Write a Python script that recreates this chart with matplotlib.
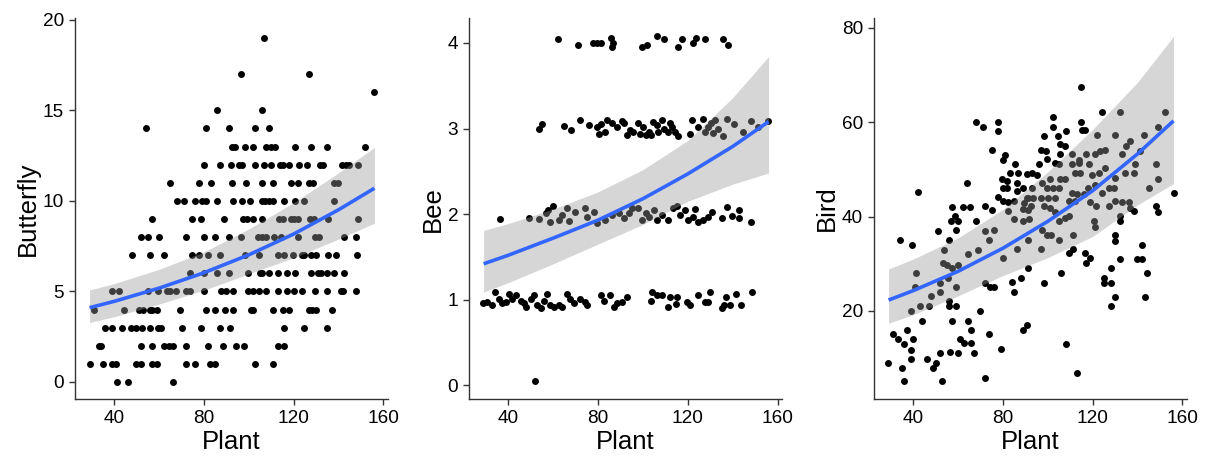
import matplotlib
matplotlib.use("Agg")
import matplotlib.pyplot as plt

plt.rcParams["font.family"] = ["Liberation Sans", "DejaVu Sans"]

# ---- Datos -------------------------------------------------------------------

PLANT_TICKS = [40, 80, 120, 160]

# Butterfly: conteos enteros -> valores de Plant en cada nivel
BUTTERFLY_ROWS = {
    19: [106.8],
    17: [96.7, 126.7],
    16: [155.7],
    15: [85.9, 105.8],
    14: [54.1, 80.9, 91.0, 102.8, 108.9],
    13: [92.7, 93.9, 98.1, 101.8, 107.7, 109.9, 111.8, 120.7, 127.7, 134.8, 151.7],
    12: [80.0, 87.0, 92.1, 95.8, 97.0, 102.8, 106.8, 109.9, 113.9, 115.1, 118.1,
         122.5, 125.8, 131.7, 133.2, 141.5, 143.3, 144.7, 148.7],
    11: [65.0, 78.0, 83.0, 92.3, 98.8, 105.8, 110.8, 118.7, 121.8, 126.7, 128.7,
         137.9, 139.8],
    10: [68.0, 71.1, 76.0, 79.0, 81.0, 86.0, 92.9, 96.9, 100.3, 105.8, 107.0, 108.9,
         110.7, 115.8, 120.7, 124.7, 137.8],
    9: [57.0, 74.8, 78.5, 88.9, 97.6, 99.1, 101.8, 105.8, 113.6, 115.1, 118.8, 120.3,
        122.1, 127.4, 129.2, 135.5, 148.7],
    8: [51.9, 55.1, 60.0, 72.1, 79.8, 84.9, 91.0, 96.7, 104.0, 105.9, 107.7, 111.4,
        114.4, 121.8, 129.6, 131.4, 142.5, 147.7],
    7: [48.1, 56.0, 62.0, 74.8, 78.0, 81.9, 87.0, 98.1, 104.7, 112.9, 115.8, 119.5,
        123.5, 124.7, 127.7, 129.9, 135.5, 138.8, 148.4],
    6: [73.8, 80.1, 85.6, 91.1, 99.8, 105.0, 105.8, 109.2, 112.9, 116.9, 120.6, 127.7,
        130.7, 132.1, 134.8, 137.8, 142.5],
    5: [39.0, 42.2, 55.1, 59.7, 63.4, 64.9, 67.4, 72.1, 73.6, 80.0, 87.7, 89.9, 92.9,
        99.8, 101.8, 104.7, 107.7, 112.9, 116.9, 120.3, 123.7, 129.6, 134.8, 141.0,
        142.1, 147.7],
    4: [31.0, 44.3, 51.0, 52.9, 55.9, 57.0, 59.1, 69.2, 81.0, 84.7, 89.2, 92.9, 101.0,
        101.8, 110.8, 115.1, 118.1, 127.0, 128.1, 129.9, 136.9],
    3: [36.0, 38.8, 43.3, 47.4, 49.5, 52.6, 56.1, 59.3, 61.0, 70.2, 78.9, 87.1, 91.4,
        115.8, 124.7, 134.8],
    2: [33.2, 34.1, 52.0, 57.0, 62.0, 64.4, 66.2, 72.1, 81.9, 88.4, 94.1, 97.8, 112.9,
        115.8],
    1: [29.2, 35.1, 39.1, 40.6, 49.9, 51.9, 56.9, 58.9, 72.1, 75.8, 82.5, 84.7, 102.8,
        110.8],
    0: [41.2, 46.1, 66.2],
}

# Bee: puntos (Plant, Bee) con jitter vertical
BEE_PTS = [
    (62.1, 4.05), (71.0, 3.97), (77.8, 4.00), (79.6, 4.00), (81.4, 4.00), (85.8, 4.06),
    (86.7, 4.00), (86.3, 3.95), (99.8, 3.95), (102.0, 3.97), (106.5, 4.08), (109.6, 4.05),
    (115.8, 3.95), (117.6, 4.05), (122.5, 4.00), (123.5, 4.06), (127.7, 4.05),
    (135.5, 4.05), (138.0, 3.97),
    (53.9, 3.00), (55.1, 3.05), (65.0, 3.03), (68.0, 2.98), (72.1, 3.10), (75.9, 3.04),
    (79.6, 3.02), (80.4, 2.94), (81.4, 3.05), (83.0, 2.96), (84.0, 3.10), (86.2, 3.07),
    (88.4, 3.02), (90.7, 3.09), (91.7, 3.06), (92.9, 2.92), (94.1, 2.98),
    (95.8, 2.96), (97.7, 3.06), (98.8, 2.94), (100.2, 3.02), (101.3, 2.92), (102.5, 2.96),
    (103.7, 2.92), (104.7, 3.08), (106.2, 3.04), (106.9, 2.96), (108.4, 3.10),
    (109.6, 3.00), (111.1, 2.96), (112.1, 3.06), (112.8, 3.02), (114.3, 2.96),
    (115.8, 2.91), (121.0, 2.94), (122.0, 3.10), (124.7, 3.02), (126.6, 3.11),
    (127.7, 2.96), (129.1, 3.02), (130.3, 3.07), (131.4, 2.95), (132.1, 3.10),
    (133.6, 3.00), (135.8, 2.91), (137.7, 3.11), (140.7, 3.05), (144.7, 2.96),
    (148.0, 3.09), (151.1, 3.02), (155.8, 3.09),
    (36.1, 1.94), (49.2, 1.95), (53.6, 1.94), (56.6, 2.01), (57.6, 2.05), (58.8, 1.91),
    (60.0, 2.09), (62.5, 1.93), (64.0, 1.99), (66.2, 2.07), (67.0, 1.92), (69.9, 2.03),
    (74.4, 2.07), (75.1, 1.97), (78.4, 2.03), (79.6, 1.90), (83.3, 1.93), (86.2, 1.99),
    (89.2, 2.01), (91.4, 1.95), (93.6, 2.01), (95.1, 2.07), (98.0, 2.07), (99.5, 1.93),
    (101.3, 2.01), (102.5, 1.97), (105.1, 2.05), (106.2, 1.93), (108.4, 1.99),
    (111.4, 1.93), (113.6, 2.07), (115.1, 2.09), (116.5, 1.99), (118.8, 2.05),
    (120.2, 1.93), (122.5, 1.97), (123.2, 2.06), (124.7, 1.91), (126.9, 1.93),
    (128.8, 1.97), (130.9, 2.02), (135.1, 1.96), (137.7, 2.08), (139.8, 1.98),
    (142.9, 2.05), (142.8, 1.95), (148.0, 1.91),
    (28.9, 0.96), (30.7, 0.97), (32.9, 0.94), (34.0, 1.09), (35.9, 1.01), (37.3, 0.96),
    (38.8, 0.97), (40.3, 1.07), (41.8, 1.01), (43.3, 1.05), (45.5, 0.99), (47.0, 0.96),
    (48.1, 0.92), (49.9, 1.01), (51.4, 1.05), (52.9, 0.94), (54.4, 0.90), (55.9, 0.99),
    (57.1, 1.07), (58.5, 0.94), (60.3, 0.92), (62.5, 0.94), (64.0, 0.92), (66.2, 1.07),
    (67.7, 1.01), (69.2, 0.96), (72.1, 1.01), (74.4, 0.97), (75.1, 0.94), (81.3, 1.05),
    (82.8, 0.99), (85.2, 1.05), (87.2, 0.92), (88.4, 0.96), (90.7, 0.97), (92.9, 1.03),
    (103.9, 1.09), (103.7, 0.99), (106.2, 1.05), (108.4, 1.05), (111.4, 0.92),
    (112.1, 1.03), (114.6, 0.95), (115.1, 1.03), (119.5, 0.97), (121.0, 0.94),
    (124.7, 1.05), (127.7, 0.97), (128.8, 0.97), (129.9, 1.09), (135.1, 0.90),
    (136.2, 0.94), (137.0, 1.03), (138.8, 0.94), (141.7, 1.07), (143.7, 0.94),
    (148.7, 1.09),
    (52.1, 0.05),
]

# Bird: puntos (Plant, Bird)
BIRD_PTS = [
    (68.0, 60.1), (71.0, 59.1), (77.9, 60.1), (77.9, 58.2), (75.0, 54.1), (80.9, 53.0),
    (80.2, 52.1), (85.4, 51.1), (83.2, 49.3), (86.9, 49.3), (90.6, 49.1), (64.1, 47.2),
    (42.2, 45.2), (79.4, 47.9), (81.7, 47.5), (86.1, 47.2), (79.9, 46.1), (77.9, 44.2),
    (81.7, 46.1), (86.1, 45.4), (89.1, 46.1), (90.6, 44.0), (80.2, 43.3), (82.4, 43.0),
    (57.1, 42.1), (62.0, 42.1), (65.3, 42.1), (72.0, 42.2), (75.0, 41.3), (89.4, 42.9),
    (91.3, 44.0), (85.1, 43.3), (82.1, 41.1), (88.8, 41.6), (91.3, 41.3), (58.6, 40.2),
    (56.8, 39.1), (60.1, 39.0), (68.0, 39.1), (85.1, 39.4), (88.8, 39.0), (91.8, 39.4),
    (50.9, 37.0), (59.0, 37.2), (72.0, 37.0), (76.0, 37.2), (34.0, 35.0), (56.1, 35.1),
    (73.9, 35.1), (91.3, 35.1), (39.3, 34.0), (53.8, 33.0), (69.0, 33.0), (86.1, 33.1),
    (64.3, 32.1), (53.1, 30.1), (54.9, 29.8), (57.1, 29.1), (60.1, 29.8), (80.2, 31.2),
    (41.2, 28.0), (55.3, 27.0), (51.9, 25.9), (72.0, 25.9), (74.2, 25.0), (76.0, 25.0),
    (41.0, 25.0), (59.0, 25.0), (91.3, 29.1), (47.9, 23.2), (51.9, 24.0), (84.2, 26.1),
    (84.9, 24.0), (88.1, 27.0), (55.9, 22.1), (43.0, 21.1), (47.1, 21.1), (56.1, 21.1),
    (59.0, 21.1), (69.8, 20.0), (38.8, 20.0), (43.7, 17.9), (57.1, 17.9), (64.3, 17.9),
    (90.6, 17.0), (88.8, 16.0), (31.1, 15.0), (33.0, 14.0), (37.0, 16.0), (40.0, 14.0),
    (65.7, 16.0), (73.9, 15.0), (36.0, 12.9), (60.8, 14.0), (62.8, 13.1), (65.7, 13.1),
    (39.0, 11.8), (56.4, 11.3), (51.9, 11.1), (60.1, 11.1), (67.2, 11.1), (79.1, 12.0),
    (28.8, 9.0), (39.0, 9.9), (46.0, 9.9), (50.1, 8.9), (48.9, 8.0), (35.1, 7.9),
    (36.0, 5.1), (52.9, 5.1), (72.0, 5.8),
    (114.9, 67.4), (124.1, 62.1), (132.3, 62.1), (152.1, 62.1), (102.1, 61.2),
    (114.9, 60.1), (102.1, 59.1), (115.2, 58.4), (116.4, 58.4), (108.2, 58.2),
    (98.1, 57.1), (104.3, 57.1), (121.9, 57.2), (130.1, 57.2), (143.0, 57.2),
    (149.1, 59.1), (105.5, 55.3), (107.5, 55.0), (97.0, 54.1), (99.1, 53.9),
    (99.6, 52.3), (110.7, 53.2), (113.7, 52.1), (105.5, 53.2), (117.0, 53.2),
    (121.1, 53.2), (123.4, 53.9), (125.6, 54.1), (133.1, 53.2), (135.0, 55.0),
    (136.8, 56.0), (140.9, 53.9), (95.9, 51.1), (103.0, 51.4), (104.8, 51.1),
    (110.7, 51.1), (114.0, 51.4), (118.2, 51.1), (92.9, 49.3), (95.1, 48.9),
    (101.1, 48.0), (105.5, 48.0), (107.5, 48.0), (111.9, 49.3), (114.5, 49.3),
    (119.7, 48.9), (122.9, 49.3), (125.3, 50.4), (129.8, 48.2), (134.5, 49.3),
    (138.3, 49.3), (139.0, 51.1), (148.2, 51.1), (149.1, 47.9), (145.0, 46.1),
    (92.9, 46.1), (97.6, 47.2), (99.6, 46.1), (102.1, 46.1), (104.8, 46.1),
    (110.7, 45.0), (113.0, 44.7), (115.9, 44.7), (117.9, 46.1), (121.1, 46.8),
    (124.1, 45.0), (127.4, 46.1), (129.3, 46.1), (93.2, 44.0), (97.0, 44.0),
    (100.0, 44.0), (103.3, 44.0), (109.2, 43.3), (111.9, 43.3), (118.9, 43.0),
    (121.6, 42.2), (127.1, 42.2), (130.1, 43.3), (133.1, 43.0), (136.0, 43.0),
    (136.8, 41.8), (138.3, 41.1), (148.2, 42.2), (149.1, 40.9), (156.1, 45.0),
    (92.6, 42.2), (98.1, 42.2), (101.1, 41.8), (103.0, 40.9), (104.8, 39.1),
    (107.5, 39.7), (109.2, 40.1), (120.4, 39.0), (121.1, 37.9), (132.3, 40.1),
    (132.3, 39.0), (97.3, 37.2), (99.6, 36.2), (101.5, 36.2), (105.1, 35.1),
    (111.2, 36.0), (130.1, 36.2), (129.8, 34.8), (97.0, 33.1), (109.2, 32.3),
    (111.2, 33.1), (116.4, 32.3), (117.1, 30.1), (118.9, 31.2), (132.3, 31.0),
    (142.0, 34.0), (139.8, 31.0), (142.0, 31.0), (106.0, 28.0), (98.1, 25.9),
    (125.2, 27.0), (125.2, 25.9), (128.3, 25.9), (128.3, 29.1), (130.1, 23.0),
    (144.2, 28.0), (143.2, 23.0), (128.1, 21.1), (108.2, 13.0), (113.0, 6.9),
]

# Curvas ajustadas (media e IC 95%)
FIT_X = [29, 40, 60, 80, 100, 120, 140, 156]
BUTTERFLY_FIT = [4.10, 4.45, 5.18, 6.03, 7.02, 8.17, 9.51, 10.70]
BUTTERFLY_LO = [3.28, 3.60, 4.30, 5.07, 5.97, 6.86, 7.89, 8.77]
BUTTERFLY_HI = [5.08, 5.43, 6.22, 7.18, 8.45, 9.90, 11.55, 12.95]
BEE_FIT = [1.42, 1.52, 1.72, 1.93, 2.18, 2.47, 2.79, 3.08]
BEE_LO = [1.09, 1.20, 1.42, 1.65, 1.88, 2.15, 2.35, 2.48]
BEE_HI = [1.81, 1.89, 2.06, 2.26, 2.52, 2.86, 3.36, 3.84]
BIRD_FIT = [22.3, 24.3, 28.4, 33.3, 39.0, 45.5, 53.3, 60.3]
BIRD_LO = [17.4, 19.2, 23.2, 27.5, 31.3, 35.8, 42.5, 47.0]
BIRD_HI = [28.9, 31.0, 35.5, 41.5, 49.5, 58.5, 68.5, 78.2]


# ---- Dibujo ------------------------------------------------------------------

def draw_panel(ax, xs, ys, fit, lo, hi, ylabel, yticks, ylim):
    ax.scatter(xs, ys, s=25, color="black", linewidths=0, zorder=2)
    ax.fill_between(FIT_X, lo, hi, color="#999999", alpha=0.4, linewidth=0, zorder=3)
    ax.plot(FIT_X, fit, color="#3366FF", lw=2.6, zorder=4, solid_capstyle="butt")

    ax.set_xlim(22.5, 162)
    ax.set_ylim(*ylim)
    ax.set_xticks(PLANT_TICKS)
    ax.set_yticks(yticks)
    ax.set_xlabel("Plant", fontsize=18.5, labelpad=2)
    ax.set_ylabel(ylabel, fontsize=18.5, labelpad=2)

    for side in ("top", "right"):
        ax.spines[side].set_visible(False)
    for side in ("left", "bottom"):
        ax.spines[side].set_color("#333333")
        ax.spines[side].set_linewidth(1.0)
    ax.tick_params(length=4.3, width=1.0, color="#333333", labelsize=13.7,
                   labelcolor="black", pad=3.5)


fig = plt.figure(figsize=(12.07, 4.63), dpi=100)
lefts = [0.0621, 0.3886, 0.7241]
axes = [fig.add_axes([l, 0.138, 0.2593, 0.823]) for l in lefts]

b_x = [x for y, xs in BUTTERFLY_ROWS.items() for x in xs]
b_y = [y for y, xs in BUTTERFLY_ROWS.items() for _ in xs]
draw_panel(axes[0], b_x, b_y, BUTTERFLY_FIT, BUTTERFLY_LO, BUTTERFLY_HI,
           "Butterfly", [0, 5, 10, 15, 20], (-0.95, 20.1))

draw_panel(axes[1], [p[0] for p in BEE_PTS], [p[1] for p in BEE_PTS],
           BEE_FIT, BEE_LO, BEE_HI, "Bee", [0, 1, 2, 3, 4], (-0.16, 4.29))

draw_panel(axes[2], [p[0] for p in BIRD_PTS], [p[1] for p in BIRD_PTS],
           BIRD_FIT, BIRD_LO, BIRD_HI, "Bird", [20, 40, 60, 80], (1.3, 82.1))

fig.savefig("out.png", dpi=100)
